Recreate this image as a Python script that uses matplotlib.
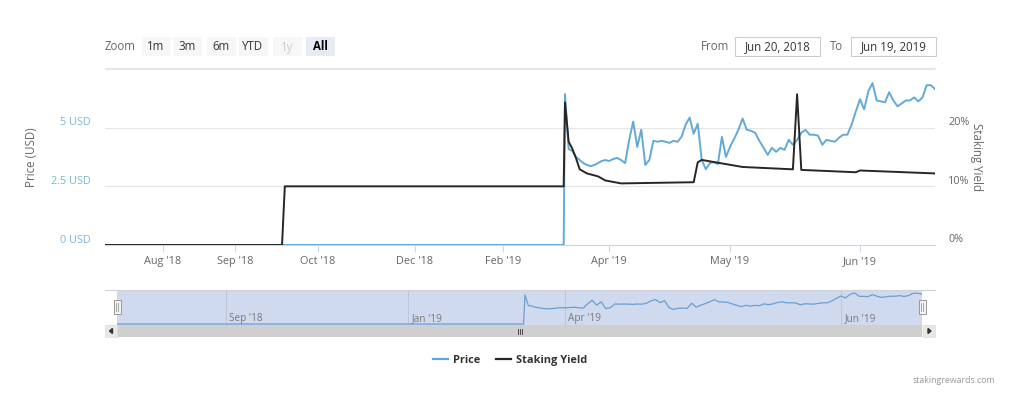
import numpy as np
import pandas as pd
import matplotlib
matplotlib.use('Agg')
import matplotlib.pyplot as plt
import matplotlib.dates as mdates
from matplotlib.patches import Rectangle, Polygon
from matplotlib.lines import Line2D

plt.rcParams['font.family'] = ['Open Sans', 'DejaVu Sans']

# ---------------- data ----------------
# Price (USD): zero before listing, then daily closes from 2019-03-20
price_flat_dates = ['2018-06-20', '2019-03-19']
price_flat_values = [0.0, 0.0]
price_daily_start = '2019-03-20'
price_daily_values = [
    # Mar 20-31
    6.43, 4.09, 4.01, 3.75, 3.62, 3.49, 3.41, 3.36, 3.41, 3.49, 3.58, 3.62,
    # Apr
    3.58, 3.66, 3.71, 3.62, 3.49, 4.48, 5.26, 4.18, 4.91, 3.41, 3.62, 4.44, 4.40, 4.44, 4.40,
    4.35, 4.44, 4.40, 4.61, 5.13, 5.43, 4.74, 5.17, 3.62, 3.23, 3.49, 3.53, 3.45, 4.61, 3.75,
    # May
    4.18, 4.53, 4.91, 5.39, 4.91, 4.87, 4.78, 4.44, 4.14, 3.84, 4.14, 3.97, 4.14, 4.05, 4.48,
    4.27, 4.48, 4.78, 4.91, 4.70, 4.70, 4.66, 4.27, 4.48, 4.44, 4.40, 4.57, 4.70, 4.70, 5.13, 5.69,
    # Jun 1-19
    6.21, 5.78, 6.55, 6.90, 6.16, 6.12, 6.08, 6.51, 6.16, 5.91, 6.03, 6.16, 6.16, 6.29, 6.12,
    6.29, 6.81, 6.81, 6.64,
]

# Staking yield (%)
yield_dates = ['2018-06-20', '2018-09-18', '2018-09-19', '2019-03-19', '2019-03-20',
               '2019-03-21', '2019-03-22', '2019-03-23', '2019-03-24', '2019-03-26',
               '2019-03-29', '2019-03-31', '2019-04-04', '2019-04-22', '2019-04-23',
               '2019-04-24', '2019-05-04', '2019-05-16', '2019-05-17', '2019-05-18',
               '2019-05-31', '2019-06-01', '2019-06-19']
yield_values = [0.0, 0.0, 10.0, 10.0, 24.3,
                17.6, 16.4, 14.8, 12.9, 12.2,
                11.7, 11.0, 10.5, 10.7, 14.1,
                14.5, 13.3, 12.9, 25.7, 12.8,
                12.4, 12.7, 12.2]

# axis labels / ticks
left_ticks = [0, 2.5, 5, 7.5]
left_tick_labels = ['0 USD', '2.5 USD', '5 USD', '']
right_ticks = [0, 10, 20]
right_tick_labels = ['0%', '10%', '20%']
main_tick_dates = ['2018-08-01', '2018-09-01', '2018-10-01', '2018-12-01', '2019-02-01',
                   '2019-04-01', '2019-05-01', '2019-06-01']
main_tick_labels = ["Aug '18", "Sep '18", "Oct '18", "Dec '18", "Feb '19", "Apr '19", "May '19", "Jun '19"]
nav_tick_dates = ['2018-09-01', '2019-01-01', '2019-04-01', '2019-06-01']
nav_tick_labels = ["Sep '18", "Jan '19", "Apr '19", "Jun '19"]
range_buttons = ['1m', '3m', '6m', 'YTD', '1y', 'All']
from_date_text = 'Jun 20, 2018'
to_date_text = 'Jun 19, 2019'

# ordinal-like (non-linear) time axes, as drawn by the stock chart
main_axis_anchor_dates = ['2018-06-20', '2018-08-01', '2018-09-01', '2018-10-01', '2018-12-01',
                          '2019-02-01', '2019-03-20', '2019-04-01', '2019-05-01', '2019-06-01',
                          '2019-06-19']
main_axis_anchor_pos = [0, 58, 130, 213, 310, 398, 460, 504, 625, 755, 830]
nav_axis_anchor_dates = ['2018-06-20', '2018-09-01', '2019-01-01', '2019-03-20', '2019-04-01',
                         '2019-06-01', '2019-06-19']
nav_axis_anchor_pos = [0, 109, 291, 408, 448, 724, 805]


def num(dates):
    return mdates.date2num(pd.to_datetime(dates).to_pydatetime())


def make_scale(anchor_dates, anchor_pos):
    xs = num(anchor_dates)
    ps = np.asarray(anchor_pos, float)

    def interp_ext(x, a, b):
        x = np.asarray(x, float)
        y = np.interp(x, a, b)
        s0 = (b[1] - b[0]) / (a[1] - a[0])
        s1 = (b[-1] - b[-2]) / (a[-1] - a[-2])
        y = np.where(x < a[0], b[0] + (x - a[0]) * s0, y)
        y = np.where(x > a[-1], b[-1] + (x - a[-1]) * s1, y)
        return y

    return (lambda x: interp_ext(x, xs, ps)), (lambda p: interp_ext(p, ps, xs))


price_x = np.concatenate([num(price_flat_dates),
                          num(pd.date_range(price_daily_start, periods=len(price_daily_values)))])
price_y = np.array(price_flat_values + price_daily_values)
yield_x = num(yield_dates)
yield_y = np.array(yield_values)
x0, x1 = num(['2018-06-20', '2019-06-19'])

# ---------------- figure ----------------
W, H = 1024, 415
fig = plt.figure(figsize=(W / 100, H / 100), dpi=100)


def box(l, t, r, b):
    return [l / W, 1 - b / H, (r - l) / W, (b - t) / H]


PRICE_C = '#62aad6'
YIELD_C = '#262626'
GRID_C = '#e6e6e6'
TXT_C = '#666666'

# ----- main chart -----
ax = fig.add_axes(box(105, 69, 935, 245))
ax.set_xscale('function', functions=make_scale(main_axis_anchor_dates, main_axis_anchor_pos))
ax.set_xlim(x0, x1)
ax.set_ylim(0, 7.5)
ax.plot(price_x, price_y, color=PRICE_C, lw=1.4, zorder=3)
ax.set_yticks(left_ticks)
ax.set_yticklabels([])
ax.tick_params(axis='y', length=0)
ax.grid(axis='y', color=GRID_C, lw=0.8)
ax.set_axisbelow(True)
for s in ['top', 'left', 'right']:
    ax.spines[s].set_visible(False)
ax.spines['bottom'].set_color('#ccd6eb')
ax.spines['bottom'].set_linewidth(0.8)
ax.set_xticks(num(main_tick_dates))
ax.set_xticklabels(main_tick_labels, fontsize=7.8, color=TXT_C)
ax.tick_params(axis='x', length=5, width=0.7, color='#ccd6eb', pad=3)
for v, lab in zip(left_ticks, left_tick_labels):
    ax.annotate(lab, xy=(0, v), xycoords=('axes fraction', 'data'), xytext=(-10, 3.5),
                textcoords='offset points', ha='right', va='center', fontsize=7.8, color='#7fb6d9')
ax.set_ylabel('Price (USD)', fontsize=8.3, color=TXT_C, labelpad=40)

ax2 = ax.twinx()
ax2.set_ylim(0, 30)
ax2.plot(yield_x, yield_y, color=YIELD_C, lw=1.4, zorder=4)
ax2.set_yticks([])
for s in ax2.spines.values():
    s.set_visible(False)
for v, lab in zip(right_ticks, right_tick_labels):
    ax2.annotate(lab, xy=(1, v), xycoords=('axes fraction', 'data'), xytext=(9.5, 3.8),
                 textcoords='offset points', ha='left', va='center', fontsize=7.8, color=TXT_C)
ax2.set_ylabel('Staking Yield', fontsize=8.3, color=TXT_C, rotation=270, labelpad=-25)
ax2.yaxis.set_label_coords(1.058, 0.5)
ax.yaxis.set_label_coords(-0.081, 0.5)

# ----- navigator -----
nav = fig.add_axes(box(117, 290, 922, 325))
nav.set_xscale('function', functions=make_scale(nav_axis_anchor_dates, nav_axis_anchor_pos))
nav.set_xlim(x0, x1)
nav.set_ylim(-0.22, 7.54)
nav.set_facecolor('#d0daee')
nav.plot(price_x, price_y, color='#6a9fd2', lw=0.9, zorder=3)
nav.set_xticks(num(nav_tick_dates))
nav.set_xticklabels([])
nav.tick_params(length=0)
nav.set_yticks([])
nav.grid(axis='x', color='#bcc6dc', lw=0.7)
for s in nav.spines.values():
    s.set_visible(False)
for d, lab in zip(num(nav_tick_dates), nav_tick_labels):
    nav.annotate(lab, xy=(d, 0), xycoords=('data', 'axes fraction'), xytext=(2.5, 4.5),
                 textcoords='offset points', ha='left', va='center', fontsize=7.2, color='#7a7a7a')

# ----- overlay for UI chrome (pixel coordinates) -----
ui = fig.add_axes([0, 0, 1, 1], zorder=10)
ui.set_xlim(0, W)
ui.set_ylim(H, 0)
ui.axis('off')
ui.patch.set_alpha(0)

# navigator outline + handles
ui.plot([105, 935], [290, 290], color='#cfd2d8', lw=0.8)
for hx in (117, 922):
    ui.add_patch(Rectangle((hx - 3.5, 300), 7, 14, facecolor='#f2f2f2', edgecolor='#999999', lw=0.7))
    ui.plot([hx - 1, hx - 1], [303, 311], color='#999999', lw=0.6)
    ui.plot([hx + 1, hx + 1], [303, 311], color='#999999', lw=0.6)

# scrollbar
ui.add_patch(Rectangle((105, 325), 830, 12, facecolor='#f2f2f2', edgecolor='none'))
ui.add_patch(Rectangle((117, 325), 805, 12, facecolor='#cfcfcf', edgecolor='none'))
ui.add_patch(Rectangle((105, 325), 12, 12, facecolor='#e8e8e8', edgecolor='#dddddd', lw=0.5))
ui.add_patch(Rectangle((923, 325), 12, 12, facecolor='#e8e8e8', edgecolor='#dddddd', lw=0.5))
ui.add_patch(Polygon([[109.5, 331], [112.5, 328.5], [112.5, 333.5]], closed=True, color='#333333'))
ui.add_patch(Polygon([[931, 331], [928, 328.5], [928, 333.5]], closed=True, color='#333333'))
for gx in (517.5, 519.5, 521.5):
    ui.plot([gx, gx], [328.5, 333.5], color='#333333', lw=0.6)

# range selector
ui.text(105, 47, 'Zoom', fontsize=8.3, color=TXT_C, ha='left', va='center')
btn_centers = [156, 187, 221, 253, 287, 320]
for lab, cx in zip(range_buttons, btn_centers):
    sel = lab == 'All'
    ui.add_patch(Rectangle((cx - 14.5, 37), 29, 19,
                           facecolor='#e6ebf5' if sel else '#f7f7f7', edgecolor='none'))
    col = '#000000' if sel else ('#cccccc' if lab == '1y' else '#333333')
    ui.text(cx, 47, lab, fontsize=8.3, color=col, ha='center', va='center',
            fontweight='bold' if sel else 'normal')
ui.plot([105, 935], [68, 68], color='#e6e6e6', lw=0.8)

ui.text(715, 47, 'From', fontsize=8.3, color=TXT_C, ha='center', va='center')
ui.add_patch(Rectangle((735, 37), 85, 19, facecolor='white', edgecolor='#cccccc', lw=0.8))
ui.text(777.5, 47, from_date_text, fontsize=8.3, color='#333333', ha='center', va='center')
ui.text(837, 47, 'To', fontsize=8.3, color=TXT_C, ha='center', va='center')
ui.add_patch(Rectangle((851, 37), 85, 19, facecolor='white', edgecolor='#cccccc', lw=0.8))
ui.text(893.5, 47, to_date_text, fontsize=8.3, color='#333333', ha='center', va='center')

# legend
handles = [Line2D([], [], color=PRICE_C, lw=1.6), Line2D([], [], color=YIELD_C, lw=1.6)]
fig.legend(handles, ['Price', 'Staking Yield'], loc='center', bbox_to_anchor=(510 / W, 1 - 360 / H),
           ncol=2, frameon=False, handlelength=1.4, handletextpad=0.45, columnspacing=1.4,
           prop={'weight': 'bold', 'size': 7.9}, labelcolor='#333333')

# credits
ui.text(995, 380, 'stakingrewards.com', fontsize=6.3, color='#999999', ha='right', va='center')

fig.savefig('out.png', dpi=100, facecolor='white')
